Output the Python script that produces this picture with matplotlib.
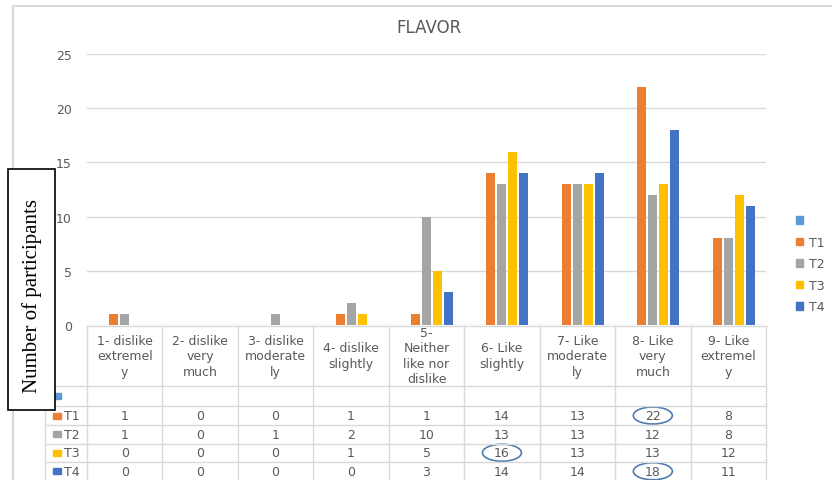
import numpy as np
import matplotlib
matplotlib.use("Agg")
import matplotlib.pyplot as plt
from matplotlib.patches import Rectangle, Ellipse
from matplotlib.lines import Line2D

# ---------------- data ----------------
categories = [
    "1- dislike\nextremel\ny",
    "2- dislike\nvery\nmuch",
    "3- dislike\nmoderate\nly",
    "4- dislike\nslightly",
    "5-\nNeither\nlike nor\ndislike",
    "6- Like\nslightly",
    "7- Like\nmoderate\nly",
    "8- Like\nvery\nmuch",
    "9- Like\nextremel\ny",
]
series_names = ["", "T1", "T2", "T3", "T4"]
blank = [None] * 9
T1 = [1, 0, 0, 1, 1, 14, 13, 22, 8]
T2 = [1, 0, 1, 2, 10, 13, 13, 12, 8]
T3 = [0, 0, 0, 1, 5, 16, 13, 13, 12]
T4 = [0, 0, 0, 0, 3, 14, 14, 18, 11]
series_values = [blank, T1, T2, T3, T4]
yticks = [0, 5, 10, 15, 20, 25]
title = "FLAVOR"
ylabel = "Number of participants"
# circled cells: (series name, category index)
highlights = [("T1", 7), ("T3", 5), ("T4", 7)]

colors = ["#5B9BD5", "#ED7D31", "#A5A5A5", "#FFC000", "#4472C4"]
TXT = "#595959"
GRID = "#D9D9D9"

W, H = 832, 481
fig = plt.figure(figsize=(W / 100, H / 100), dpi=100)

def fx(px):
    return px / W

def fy(py):
    return 1 - py / H

# plot area
x0, x1 = 87, 766
y_top, y_bot = 55, 326
ax = fig.add_axes([fx(x0), fy(y_bot), fx(x1) - fx(x0), fy(y_top) - fy(y_bot)])
n = len(categories)
ax.set_xlim(0, n)
ax.set_ylim(0, 25)
for s in ax.spines.values():
    s.set_visible(False)
ax.set_xticks([])
ax.set_yticks(yticks)
ax.set_yticklabels([str(t) for t in yticks])
ax.tick_params(axis="y", length=0, pad=11, labelsize=9, labelcolor=TXT)
ax.yaxis.grid(True, color=GRID, lw=1)
ax.set_axisbelow(True)

cat_px = (x1 - x0) / n
slot = 11 / cat_px
bw = 9 / cat_px
xs = np.arange(n) + 0.5
handles = []
for k, (name, vals) in enumerate(zip(series_names, series_values)):
    v = np.array([np.nan if a is None else a for a in vals], dtype=float)
    ax.bar(xs + (k - 2) * slot, v, width=bw, color=colors[k], zorder=3)
    handles.append(Rectangle((0, 0), 1, 1, color=colors[k]))

fig.text(fx(429), fy(28), title, ha="center", va="center", fontsize=12, color=TXT)

# legend
fig.legend(handles, [nm if nm else " " for nm in series_names],
           loc="upper left", bbox_to_anchor=(fx(790), fy(209)),
           frameon=False, fontsize=9, handlelength=0.55, handleheight=0.55,
           handletextpad=0.5, labelspacing=0.68, borderpad=0, labelcolor=TXT)

# ---------------- data table ----------------
tab_left = 45
tab_top = 326.5
rows = [387, 407, 426, 444.5, 463, 481.5]
tax = fig.add_axes([fx(tab_left), 0, fx(x1) - fx(tab_left), fy(tab_top)])
tax.set_xlim(-(x0 - tab_left) / cat_px, n)
tax.set_ylim(H, tab_top)
tax.axis("off")
lx = -(x0 - tab_left) / cat_px
# horizontal lines
tax.plot([0, n], [tab_top, tab_top], color=GRID, lw=1, clip_on=False)
for r in rows:
    tax.plot([lx, n], [r, r], color=GRID, lw=1, clip_on=False)
# vertical lines
for i in range(n + 1):
    tax.plot([i, i], [tab_top, H + 1], color=GRID, lw=1, clip_on=False)
tax.plot([lx, lx], [rows[0], H + 1], color=GRID, lw=1, clip_on=False)
# header text
for i, c in enumerate(categories):
    tax.text(i + 0.5, (tab_top + rows[0]) / 2, c, ha="center", va="center",
             fontsize=9, color=TXT, linespacing=1.25)
# row labels & values
for k, (name, vals) in enumerate(zip(series_names, series_values)):
    top, bot = rows[k], rows[k + 1]
    cy = (top + bot) / 2
    kx = -(x0 - 53) / cat_px
    tax.add_patch(Rectangle((kx, cy - 3), 8 / cat_px, 6, color=colors[k],
                            clip_on=False))
    if name:
        tax.text(-(x0 - 64) / cat_px, cy, name, ha="left", va="center",
                 fontsize=9, color=TXT)
    for i, v in enumerate(vals):
        if v is not None:
            tax.text(i + 0.5, cy, str(v), ha="center", va="center",
                     fontsize=9, color=TXT)
for name, ci in highlights:
    k = series_names.index(name)
    cy = (rows[k] + rows[k + 1]) / 2
    tax.add_patch(Ellipse((ci + 0.5, cy), 39 / cat_px, 17, fill=False,
                          edgecolor="#4F7CAC", lw=1.2, clip_on=False))

# outer chart border
fig.add_artist(Line2D([fx(13), fx(13)], [fy(6.7), 0], color=GRID, lw=1.5))
fig.add_artist(Line2D([fx(13), 1], [fy(6.7), fy(6.7)], color=GRID, lw=1.5))

# y-label box
box = Rectangle((fx(8), fy(411)), fx(55) - fx(8), fy(170) - fy(411),
                transform=fig.transFigure, facecolor="white", edgecolor="black",
                lw=1.2, zorder=10)
fig.add_artist(box)
fig.text(fx(32), fy(296), ylabel, rotation=90, ha="center", va="center",
         fontsize=15, family="Liberation Serif", color="black", zorder=11)

fig.savefig("out.png", dpi=100)
